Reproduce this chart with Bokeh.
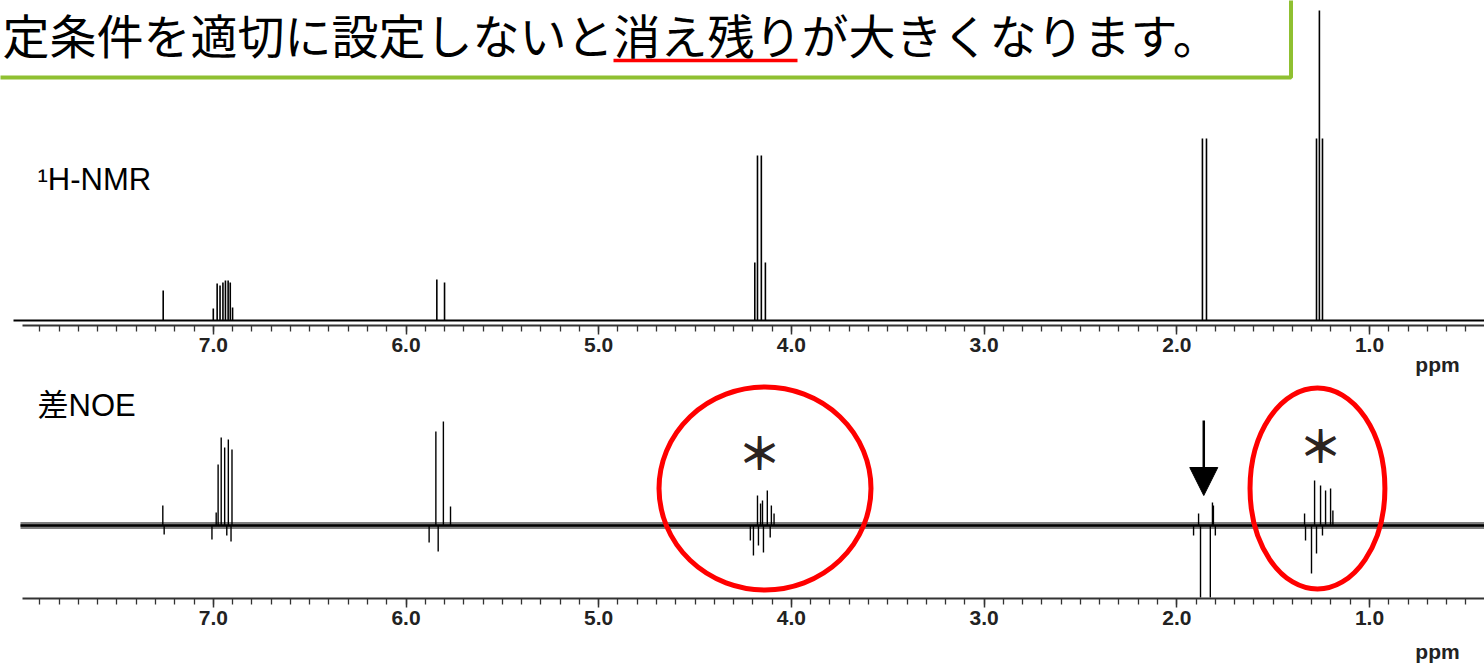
from bokeh.plotting import figure
from bokeh.models import Range1d, LinearAxis, FixedTicker, PrintfTickFormatter, Label, Arrow, NormalHead
from bokeh.embed import file_html
from bokeh.resources import INLINE
from bokeh.core.properties import value

# ---------------- data ----------------
title_text = "定条件を適切に設定しないと消え残りが大きくなります。"
highlight_text = "消え残り"
nmr_label = "¹H-NMR"
noe_label = "差NOE"
unit_label = "ppm"
major_ticks = [7.0, 6.0, 5.0, 4.0, 3.0, 2.0, 1.0]

# 1H-NMR line positions (ppm) and heights (relative intensity)
nmr_ppm = [7.26, 7.000, 6.980, 6.965, 6.950, 6.937, 6.923, 6.912, 6.900,
           5.840, 5.800,
           4.190, 4.176, 4.156, 4.135,
           1.867, 1.846,
           1.275, 1.260, 1.244]
nmr_int = [30, 12, 37, 35, 38, 40, 40, 38, 13,
           41, 38,
           58, 165, 165, 58,
           182, 182,
           182, 310, 182]

# difference NOE line positions (ppm) and signed heights
noe_ppm = [7.262, 7.255,
           7.007, 6.985, 6.975, 6.959, 6.941, 6.930, 6.922, 6.908, 6.903,
           5.880, 5.845, 5.833, 5.806, 5.769,
           4.213, 4.197, 4.176, 4.171, 4.160, 4.150, 4.145, 4.125, 4.110, 4.104, 4.090,
           1.913, 1.887, 1.877, 1.826, 1.815, 1.810, 1.800,
           1.337, 1.332, 1.301, 1.285, 1.275, 1.254, 1.244, 1.228, 1.202, 1.190]
noe_int = [20, -9,
           -14, 13, 61, 88, 78, -10, 86, -16, 76,
           -17, 94, -26, 104, 19,
           -15, -30, 30, -20, 22, 25, -27, 35, -12, 20, 12,
           -10, 12, -72, -72, 23, 20, -10,
           12, -15, -48, 45, -28, 40, -10, 35, 37, 15]

circled_ppm = [4.137, 1.270]
circled_width_ppm = [1.100, 0.700]
starred_ppm = [4.166, 1.254]
irradiated_ppm = 1.86

# ---------------- layout / style ----------------
W, H = 1484, 667
PX_PER_PPM = 192.7
REF_PPM, REF_PX = 1.0, 1369.0


def ppm_at(px):
    return REF_PPM + (REF_PX - px) / PX_PER_PPM


def y_at(py):
    return -py


NMR_BASE = y_at(320)
NOE_BASE = y_at(525)

p = figure(width=W, height=H,
           x_range=Range1d(ppm_at(0), ppm_at(W)),
           y_range=Range1d(y_at(H), y_at(0)),
           output_backend="svg", toolbar_location=None,
           x_axis_location=None, y_axis_location=None,
           min_border=0, outline_line_color=None,
           background_fill_color="white", border_fill_color="white")
p.xgrid.visible = False
p.ygrid.visible = False

# title box
GREEN = "#8FC031"
p.quad(left=[ppm_at(-40)], right=[ppm_at(1290.5)], top=[y_at(-40)], bottom=[y_at(77)],
       fill_color=None, line_color=GREEN, line_width=4)

TITLE_FS = 47
TITLE_X = 2
p.add_layout(Label(x=ppm_at(TITLE_X), y=y_at(33), text=title_text,
                   text_font="Noto Sans CJK JP", text_font_size=f"{TITLE_FS}px",
                   text_color="black", text_baseline="alphabetic"))
hi = title_text.index(highlight_text)
u0 = TITLE_X + hi * TITLE_FS
u1 = u0 + len(highlight_text) * TITLE_FS - 4
p.segment(x0=[ppm_at(u0)], y0=[y_at(60)], x1=[ppm_at(u1)], y1=[y_at(60)],
          line_color="#FF0000", line_width=3.5)

# spectrum labels
LAT = "Liberation Sans, Noto Sans CJK JP"
p.add_layout(Label(x=ppm_at(37), y=y_at(196), text=nmr_label, text_font=LAT,
                   text_font_size="31px", text_color="black"))
p.add_layout(Label(x=ppm_at(37), y=y_at(422), text=noe_label, text_font=LAT,
                   text_font_size="31px", text_color="black"))

# 1H-NMR spectrum
p.line(x=[ppm_at(13), ppm_at(W + 10)], y=[NMR_BASE, NMR_BASE],
       line_color="black", line_width=1.8)
p.segment(x0=nmr_ppm, y0=[NMR_BASE] * len(nmr_ppm), x1=nmr_ppm,
          y1=[NMR_BASE + v for v in nmr_int], line_color="black", line_width=1.6)

# difference NOE spectrum (noise band + core line)
p.line(x=[ppm_at(20), ppm_at(W + 10)], y=[NOE_BASE, NOE_BASE],
       line_color="black", line_width=7, line_alpha=0.5)
p.line(x=[ppm_at(20), ppm_at(W + 10)], y=[NOE_BASE, NOE_BASE],
       line_color="black", line_width=2.5)
p.segment(x0=noe_ppm, y0=[NOE_BASE] * len(noe_ppm), x1=noe_ppm,
          y1=[NOE_BASE + v for v in noe_int], line_color="black", line_width=1.4)

# circles around the residual signals
p.ellipse(x=circled_ppm, y=[y_at(488)] * 2, width=circled_width_ppm, height=[203, 201],
          fill_color=None, line_color="#FF0000", line_width=5)
p.text(x=starred_ppm, y=[y_at(450), y_at(443)], text=["＊", "＊"],
       text_font=value("Noto Sans CJK JP"), text_font_size="44px", text_font_style="bold",
       text_color="#2B2320", text_align="center", text_baseline="middle")

# irradiation arrow
p.add_layout(Arrow(end=NormalHead(size=28, fill_color="black", line_color="black"),
                   x_start=irradiated_ppm, y_start=y_at(420),
                   x_end=irradiated_ppm, y_end=y_at(495),
                   line_color="black", line_width=2.5))

# ppm axes
minor = [round(0.5 + 0.1 * i, 1) for i in range(75)]
for loc, unit_y in ((y_at(325), y_at(375)), (y_at(598), y_at(662))):
    ax = LinearAxis(fixed_location=loc,
                    ticker=FixedTicker(ticks=major_ticks, minor_ticks=minor),
                    formatter=PrintfTickFormatter(format="%.1f"),
                    bounds=(0.0, 7.99))
    ax.axis_line_color = "#333333"
    ax.axis_line_width = 2
    ax.major_tick_line_color = "#333333"
    ax.minor_tick_line_color = "#333333"
    ax.major_tick_line_width = 1.5
    ax.minor_tick_line_width = 1.3
    ax.major_tick_in = 0
    ax.major_tick_out = 9
    ax.minor_tick_in = 0
    ax.minor_tick_out = 6
    ax.major_label_text_font = "Liberation Sans"
    ax.major_label_text_font_style = "bold"
    ax.major_label_text_font_size = "21px"
    ax.major_label_text_color = "#222222"
    ax.major_label_standoff = 3
    p.add_layout(ax, "below")
    p.add_layout(Label(x=ppm_at(1437), y=unit_y, text=unit_label, text_font="Liberation Sans",
                       text_font_style="bold", text_font_size="21px", text_color="#222222",
                       text_align="center"))

open("out.html", "w").write(file_html(p, INLINE))
